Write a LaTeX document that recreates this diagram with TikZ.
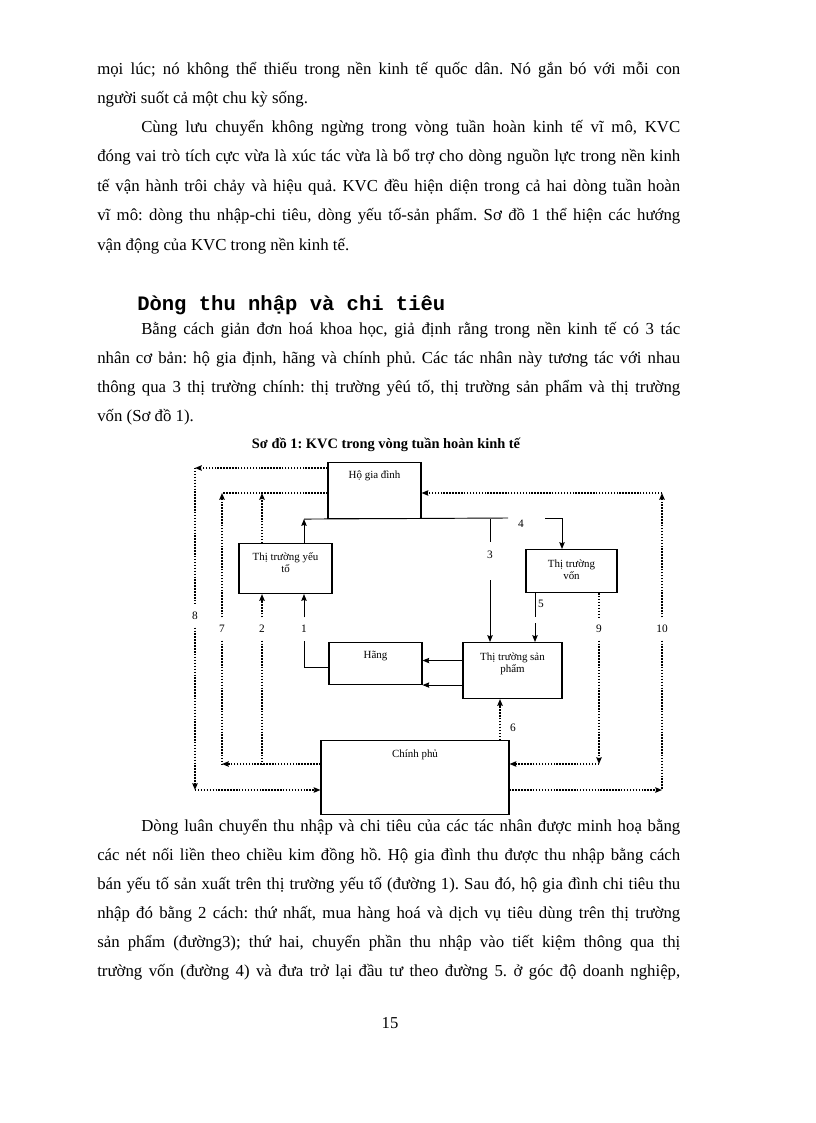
\documentclass[tikz,border=0pt]{standalone}
\usepackage{fontspec}
\setmainfont{Liberation Serif}
\setmonofont{Liberation Mono}
\usetikzlibrary{calc,arrows.meta}

\newlength{\fullw}\setlength{\fullw}{437.25pt}
\newlength{\indw}\setlength{\indw}{404.25pt}
\newcommand{\jline}[1]{\makebox[\fullw][s]{#1}}
\newcommand{\jind}[1]{\makebox[\indw][s]{#1}}
\frenchspacing

\begin{document}
\begin{tikzpicture}[x=0.75pt, y=-0.75pt]
    % Define styles
    \tikzstyle{para} = [anchor=base west, inner sep=0pt, font=\fontsize{12.6}{15}\selectfont]
    \tikzstyle{block} = [draw, rectangle, line width=0.8pt, inner sep=0pt, align=center, anchor=north, font=\fontsize{8.2}{9.4}\selectfont]
    \tikzstyle{num} = [inner sep=0pt, minimum height=17pt, minimum width=7pt, font=\fontsize{8.5}{9}\selectfont]
    \tikzstyle{link} = [line width=0.7pt]
    \tikzstyle{linkarrow} = [link, -{Stealth[length=5pt, width=4pt, inset=0.6pt]}]
    \tikzstyle{dotline} = [line width=1.1pt, dash pattern=on 1.1pt off 1.1pt]
    \tikzstyle{dotarrow} = [dotline, -{Stealth[length=5pt, width=4pt, inset=0.6pt]}]

    \useasboundingbox (0,0) rectangle (816,1123);

    % Text above
    \node (t1) [para] at (97,75) {\jline{mọi lúc; nó không thể thiếu trong nền kinh tế quốc dân. Nó gắn bó với mỗi con}};
    \node (t2) [para] at (97,104) {người suốt cả một chu kỳ sống.};
    \node (t3) [para] at (141,133) {\jind{Cùng lưu chuyển không ngừng trong vòng tuần hoàn kinh tế vĩ mô, KVC}};
    \node (t4) [para] at (97,162) {\jline{đóng vai trò tích cực vừa là xúc tác vừa là bổ trợ cho dòng nguồn lực trong nền kinh}};
    \node (t5) [para] at (97,192) {\jline{tế vận hành trôi chảy và hiệu quả. KVC đều hiện diện trong cả hai dòng tuần hoàn}};
    \node (t6) [para] at (97,221) {\jline{vĩ mô: dòng thu nhập-chi tiêu, dòng yếu tố-sản phẩm. Sơ đồ 1 thể hiện các hướng}};
    \node (t7) [para] at (97,250) {vận động của KVC trong nền kinh tế.};

    \node (head) [anchor=base west, inner sep=0pt, font=\ttfamily\bfseries\fontsize{15.4}{18}\selectfont] at (137,310) {Dòng thu nhập và chi tiêu};

    \node (t8) [para] at (141,334) {\jind{Bằng cách giản đơn hoá khoa học, giả định rằng trong nền kinh tế có 3 tác}};
    \node (t9) [para] at (97,363) {\jline{nhân cơ bản: hộ gia định, hãng và chính phủ. Các tác nhân này tương tác với nhau}};
    \node (t10) [para] at (97,392) {\jline{thông qua 3 thị trường chính: thị trường yêú tố, thị trường sản phẩm và thị trường}};
    \node (t11) [para] at (97,421) {vốn (Sơ đồ 1).};

    \node (title) [font=\bfseries\fontsize{10.8}{12}\selectfont] at (386,445) {Sơ đồ 1: KVC trong vòng tuần hoàn kinh tế};

    % Boxes
    \node (hgd) [block, minimum width=69.75pt, text height=12pt, text depth=30pt] at (374.5,462) {Hộ gia đình};
    \node (ttyt) [block, minimum width=69.75pt, text height=21.75pt, text depth=15.75pt] at (285.5,543) {Thị trường yếu\\tố};
    \node (von) [block, minimum width=68.25pt, text height=22.5pt, text depth=9.75pt] at (571.5,549) {Thị trường\\vốn};
    \node (hang) [block, minimum width=69.75pt, text height=12pt, text depth=19.5pt] at (375.5,642) {Hãng};
    \node (ttsp) [block, minimum width=74.25pt, text height=22.5pt, text depth=19.5pt] at (512.5,642) {Thị trường sản\\phẩm};
    \node (cp) [block, minimum width=141pt, text height=12.75pt, text depth=42.75pt] at (415,740) {Chính phủ};

    % Numbers
    \node (n8) [num] at (195,616) {8};
    \node (n7) [num] at (222,629) {7};
    \node (n2) [num] at (262,629) {2};
    \node (n1) [num] at (304,629) {1};
    \node (n3) [num, minimum height=0pt, text height=12pt, text depth=16.5pt, anchor=base] at (490,558) {3};
    \node (n4) [num] at (521,524) {4};
    \node (n5) [num] at (541,604) {5};
    \node (n6) [num] at (513,728) {6};
    \node (n9) [num] at (599,629) {9};
    \node (n10) [num] at (662,629) {10};

    % Corners
    \coordinate (c8a) at (195,468);
    \coordinate (c8b) at (195,790);
    \coordinate (c7a) at (222,493);
    \coordinate (c7b) at (222,764);
    \coordinate (c10a) at (662,493);
    \coordinate (c10b) at (662,790);
    \coordinate (c9) at (599,764);
    \coordinate (c6) at (500,740);
    \coordinate (c4a) at (508,518);
    \coordinate (c4b) at (545,518);
    \coordinate (c4c) at (562,518);
    \coordinate (c5a) at (535,617);
    \coordinate (c5b) at (535,623);

    % Dotted flows
    \draw [dotarrow] (hgd.west |- c8a) -- (c8a);
    \draw [dotline] (c8a) -- (n8.north);
    \draw [dotarrow] (n8.south) -- (c8b);
    \draw [dotarrow] (c8b) -- (cp.west |- c8b);
    \draw [dotline] (hgd.west |- c7a) -- (c7a);
    \draw [dotarrow] (n7.north) -- (c7a);
    \draw [dotarrow] (ttyt.north -| n2) -- (n2 |- c7a);
    \draw [dotarrow] (n2.north) -- (n2 |- ttyt.south);
    \draw [dotline] (n7.south) -- (c7b);
    \draw [dotline] (n2.south) -- (n2 |- c7b);
    \draw [dotarrow] (cp.west |- c7b) -- (c7b);
    \draw [dotarrow] (n10.north) -- (c10a);
    \draw [dotarrow] (c10a) -- (hgd.east |- c10a);
    \draw [dotline] (n10.south) -- (c10b);
    \draw [dotarrow] (cp.east |- c10b) -- (c10b);
    \draw [dotline] (von.south -| n9) -- (n9.north);
    \draw [dotarrow] (n9.south) -- (c9);
    \draw [dotarrow] (c9) -- (cp.east |- c9);
    \draw [dotarrow] (cp.north -| c6) -- (ttsp.south -| c6);

    % Solid flows
    \draw [link] ($(hang.west)+(0,4)$) -| (n1.south);
    \draw [linkarrow] (n1.north) -- (n1 |- ttyt.south);
    \draw [linkarrow] (ttyt.north -| n1) -- (hgd.south -| n1);
    \draw [link] (hgd.south -| n1) -- (c4a);
    \draw [link] (hgd.south -| n3) -- (n3.north);
    \draw [linkarrow] (n3.south) -- (n3 |- ttsp.north);
    \draw [linkarrow] (c4b) -- (c4c) -- (c4c |- von.north);
    \draw [link] (von.south -| c5a) -- (c5a);
    \draw [linkarrow] (c5b) -- (c5b |- ttsp.north);
    \draw [linkarrow] ([yshift=2.25pt]ttsp.west |- hang.east) -- ([yshift=2.25pt]hang.east);
    \draw [linkarrow] (ttsp.west |- hang.south east) -- (hang.south east);

    % Text below
    \node (b1) [para] at (141,831) {\jind{Dòng luân chuyển thu nhập và chi tiêu của các tác nhân được minh hoạ bằng}};
    \node (b2) [para] at (97,860) {\jline{các nét nối liền theo chiều kim đồng hồ. Hộ gia đình thu được thu nhập bằng cách}};
    \node (b3) [para] at (97,889) {\jline{bán yếu tố sản xuất trên thị trường yếu tố (đường 1). Sau đó, hộ gia đình chi tiêu thu}};
    \node (b4) [para] at (97,918) {\jline{nhập đó bằng 2 cách: thứ nhất, mua hàng hoá và dịch vụ tiêu dùng trên thị trường}};
    \node (b5) [para] at (97,947) {\jline{sản phẩm (đường3); thứ hai, chuyển phần thu nhập vào tiết kiệm thông qua thị}};
    \node (b6) [para] at (97,976) {\jline{trường vốn (đường 4) và đưa trở lại đầu tư theo đường 5. ở góc độ doanh nghiệp,}};

    \node (page) [font=\fontsize{12.5}{15}\selectfont] at (390,1023) {15};
\end{tikzpicture}
\end{document}
